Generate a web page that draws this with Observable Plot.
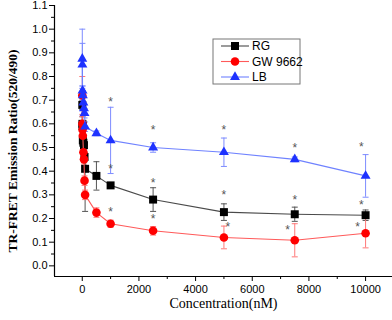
<!DOCTYPE html>
<html>
<head>
<meta charset="utf-8">
<script src="https://cdn.jsdelivr.net/npm/d3@7"></script>
<script src="https://cdn.jsdelivr.net/npm/@observablehq/plot@0.6"></script>
<style>
  html, body { margin: 0; padding: 0; background: #fff; }
  #chart { width: 392px; height: 320px; }
</style>
</head>
<body>
<div id="chart"></div>
<script>
// ---- data ----
const concentrations = [1, 5, 10, 20, 40, 60, 80, 100, 500, 1000, 2500, 5000, 7500, 10000];
const seriesNames = ["RG", "GW 9662", "LB"];
const rgValues = [0.68, 0.60, 0.59, 0.53, 0.52, 0.51, 0.46, 0.41, 0.38, 0.34, 0.28, 0.227, 0.218, 0.214];
const rgErrors = [0.02, 0.03, 0.02, 0.02, 0.02, 0.02, 0.02, 0.18, 0.06, 0.01, 0.05, 0.035, 0.03, 0.022];
const gwValues = [0.72, 0.60, 0.575, 0.55, 0.48, 0.45, 0.36, 0.30, 0.225, 0.178, 0.148, 0.12, 0.108, 0.138];
const gwErrors = [0.08, 0.03, 0.02, 0.02, 0.02, 0.02, 0.02, 0.02, 0.02, 0.015, 0.018, 0.048, 0.07, 0.062];
const lbValues = [0.875, 0.85, 0.74, 0.72, 0.69, 0.665, 0.645, 0.588, 0.56, 0.53, 0.50, 0.48, 0.45, 0.38];
const lbErrors = [0.125, 0.09, 0.02, 0.02, 0.02, 0.02, 0.02, 0.02, 0.01, 0.14, 0.02, 0.06, 0.01, 0.09];
const starX = [1000, 1000, 1000, 2500, 2500, 2500, 5000, 5000, 5140, 7500, 7500, 7250, 9850, 9850, 9720];
const starY = [0.706, 0.42, 0.24, 0.585, 0.363, 0.211, 0.585, 0.31, 0.176, 0.51, 0.29, 0.165, 0.515, 0.27, 0.178];
const yTicks = [0, 0.1, 0.2, 0.3, 0.4, 0.5, 0.6, 0.7, 0.8, 0.9, 1.0, 1.1];
const yMinorTicks = [0.05, 0.15, 0.25, 0.35, 0.45, 0.55, 0.65, 0.75, 0.85, 0.95, 1.05];
const xTicks = [0, 2000, 4000, 6000, 8000, 10000];
const xMinorTicks = [1000, 3000, 5000, 7000, 9000];
const yLabel = "TR-FRET Emission Ratio(520/490)";
const xLabel = "Concentration(nM)";

// ---- styles ----
const styles = {
  "RG":      {line: "#4a4a4a", marker: "#000000", err: "#555555", symbol: "square", r: 4.5},
  "GW 9662": {line: "#ff5a5a", marker: "#ff0000", err: "#ff7878", symbol: "circle", r: 4.3},
  "LB":      {line: "#6f82ff", marker: "#1e32ff", err: "#7d8cff", symbol: "triangle", r: 3.7}
};

const seriesData = {
  "RG": [rgValues, rgErrors],
  "GW 9662": [gwValues, gwErrors],
  "LB": [lbValues, lbErrors]
};
const rows = seriesNames.flatMap(s => concentrations.map((c, i) => ({
  series: s, c, v: seriesData[s][0][i], e: seriesData[s][1][i]
})));
const stars = starX.map((x, i) => ({x, y: starY[i]}));

const capSymbol = {
  draw(ctx, size) { const w = 3; ctx.moveTo(-w, 0); ctx.lineTo(w, 0); }
};

const marks = [];
// axes lines
marks.push(Plot.ruleX([-980], {stroke: "#000", strokeWidth: 1.2}));
marks.push(Plot.ruleY([-0.045], {stroke: "#000", strokeWidth: 1.2}));
marks.push(Plot.axisY(yTicks, {tickSize: 5, tickFormat: d3.format(".1f"), tickPadding: 2, label: null, fontSize: 11}));
marks.push(Plot.axisY(yMinorTicks, {tickSize: 3, tickFormat: () => "", label: null}));
marks.push(Plot.axisX(xTicks, {tickSize: 5, tickFormat: d3.format("d"), tickPadding: 4, label: null, fontSize: 11}));
marks.push(Plot.axisX(xMinorTicks, {tickSize: 3, tickFormat: () => "", label: null}));

for (const s of seriesNames) {
  const st = styles[s];
  const d = rows.filter(r => r.series === s);
  marks.push(Plot.ruleX(d, {x: "c", y1: r => r.v - r.e, y2: r => r.v + r.e, stroke: st.err, strokeWidth: 1}));
  marks.push(Plot.dot(d, {x: "c", y: r => r.v - r.e, symbol: capSymbol, stroke: st.err, fill: "none", strokeWidth: 1}));
  marks.push(Plot.dot(d, {x: "c", y: r => r.v + r.e, symbol: capSymbol, stroke: st.err, fill: "none", strokeWidth: 1}));
}
for (const s of seriesNames) {
  const st = styles[s];
  const d = rows.filter(r => r.series === s);
  marks.push(Plot.line(d, {x: "c", y: "v", stroke: st.line, strokeWidth: 1.1}));
  marks.push(Plot.dot(d, {x: "c", y: "v", symbol: st.symbol, r: st.r, fill: st.marker, stroke: "none"}));
}
marks.push(Plot.text(stars, {x: "x", y: "y", text: () => "*", fill: "#555", fontSize: 12, dy: 3, fontFamily: "Liberation Sans, Arial, sans-serif"}));
marks.push(Plot.text([yLabel], {frameAnchor: "left", textAnchor: "middle", lineAnchor: "middle", rotate: -90, dx: -42, dy: 10, text: d => d, fontWeight: "bold", fontSize: 13.5, fontFamily: "Liberation Serif, Times New Roman, serif", fill: "#000"}));
marks.push(Plot.text([xLabel], {frameAnchor: "bottom", lineAnchor: "middle", dy: 27, text: d => d, fontSize: 14, fontFamily: "Liberation Serif, Times New Roman, serif", fill: "#000"}));

const chart = Plot.plot({
  width: 392,
  height: 320,
  marginLeft: 54,
  marginRight: 0,
  marginTop: 5,
  marginBottom: 44,
  style: {fontFamily: "Liberation Sans, Arial, sans-serif", fontSize: "11px", color: "#000", background: "#fff", overflow: "visible"},
  x: {domain: [-980, 10950]},
  y: {domain: [-0.045, 1.1]},
  marks
});

// legend drawn inside the svg
const svg = d3.select(chart);
const lg = svg.append("g").attr("transform", "translate(213,39)")
  .attr("font-family", "Liberation Sans, Arial, sans-serif").attr("font-size", 12).attr("text-anchor", "start");
lg.append("rect").attr("width", 87).attr("height", 45).attr("fill", "#fff").attr("stroke", "#777").attr("stroke-width", 1);
seriesNames.forEach((s, i) => {
  const st = styles[s];
  const y = 7 + i * 15.5;
  lg.append("line").attr("x1", 8).attr("x2", 36).attr("y1", y).attr("y2", y).attr("stroke", st.line).attr("stroke-width", 1.1);
  const sym = st.symbol === "square" ? d3.symbolSquare : st.symbol === "circle" ? d3.symbolCircle : d3.symbolTriangle;
  lg.append("path").attr("d", d3.symbol(sym, Math.PI * st.r * st.r)()).attr("transform", `translate(22,${y})`).attr("fill", st.marker);
  lg.append("text").attr("x", 39).attr("y", y).attr("dy", "0.35em").attr("text-anchor", "start").attr("fill", "#000").text(s);
});

document.getElementById("chart").appendChild(chart);
</script>
</body>
</html>
